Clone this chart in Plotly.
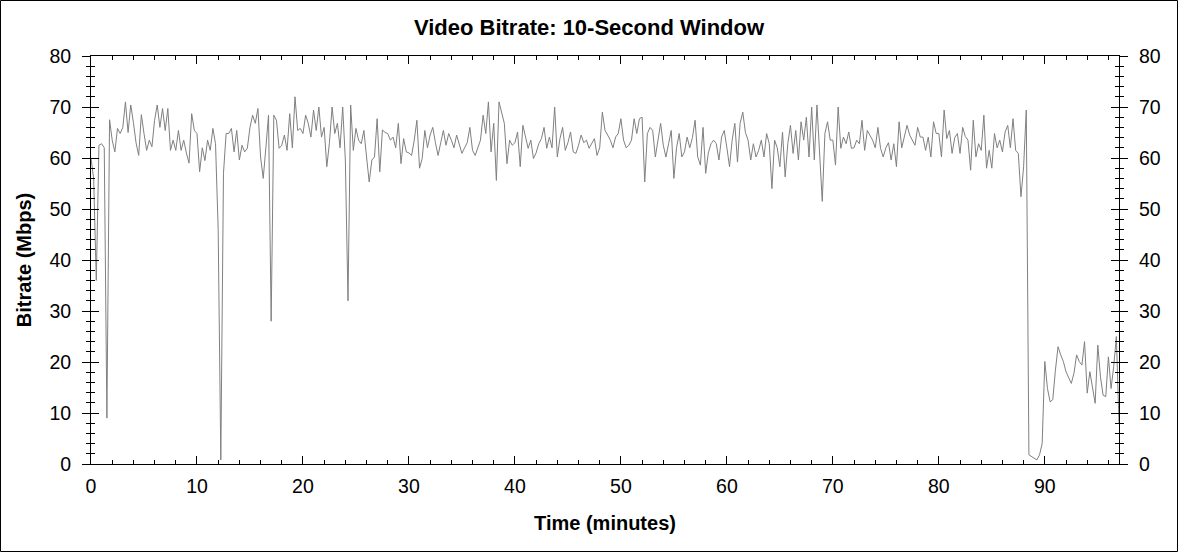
import plotly.graph_objects as go

# 10-second window bitrate, one reading every 15 s (4 per minute)
bitrate = [
    60, 56, 36, 62.5,  62.8, 62, 9, 67.5,  63.5, 61.2, 65.8, 64.8,  66, 71, 65, 70.4,
    67, 63, 60.5, 68.5,  64.8, 61.5, 63.5, 62.2,  67.4, 70.4, 66, 69.7,  65.4, 69.7, 61.5, 63.5,
    61.5, 65.4, 61.5, 63.5,  61, 59, 68.7, 65.4,
    # 10 min
    64.8, 57.3, 62, 59.5,  63.5, 61.5, 65.8, 62.8,  46, 0.8, 57, 64.8,  64.8, 65.8, 61.2, 65.4,
    59.6, 62.5, 61.2, 61.9,  66, 68.4, 66.8, 69.7,  60.2, 56, 62, 68.4,  28, 68.4, 67.4, 61.9,
    62.5, 64.5, 61.5, 68.7,  62, 72, 65.4, 65.8,
    # 20 min
    64.8, 68.4, 66.8, 64.1,  69.4, 65.4, 70, 64.1,  66, 58.3, 63, 70,  64.8, 66.8, 62, 70,
    59.6, 32, 70.4, 61.5,  65.8, 63.5, 62.8, 65.4,  60.2, 55.3, 59.6, 60.2,  67.7, 57.3, 65.5, 65,
    64.8, 63.5, 64.1, 62,  66.8, 58.9, 63.8, 61.2,
    # 30 min
    61, 60.5, 63.5, 67.4,  58, 59.9, 65.4, 62,  64.5, 66, 63, 60.5,  63, 65.4, 62.5, 64.8,
    63.5, 62, 64.5, 62.8,  60.9, 62, 63, 66,  61.5, 60.5, 62, 63.5,  68.4, 64.8, 71, 61.2,
    66.8, 55.6, 71, 68.7,  66.8, 58.9, 63.5, 62.5,
    # 40 min
    63, 65.1, 58.3, 66.4,  64, 61.9, 63.5, 59.9,  61, 62.8, 63.8, 66,  61.9, 64.1, 62, 70,
    60.2, 63.8, 66, 61.5,  63, 65.1, 61.2, 60.9,  62.5, 64.5, 63, 63.5,  61.9, 63, 63.8, 60.5,
    62, 69, 65.4, 64.5,  63.5, 62, 64.1, 64.8,
    # 50 min
    67.7, 63.5, 62, 62.5,  63.5, 67.7, 64.8, 67.7,  68, 55.3, 64.8, 66,  65.4, 60.2, 63.5, 66.8,
    62.5, 60.2, 62.8, 65.4,  56, 62, 64.8, 60.2,  61.2, 64.1, 62, 64,  67.4, 60.2, 58.6, 66,
    57, 61, 62.8, 63.5,  62.8, 59.6, 64.1, 65.4,
    # 60 min
    62, 58.3, 63.5, 66.8,  59.2, 66.8, 69, 65,  63.5, 59.6, 62.8, 60.2,  61.5, 63.5, 60.2, 64.8,
    62.8, 54, 63.5, 62,  58.3, 65.1, 56.3, 62.8,  66.4, 60.9, 65.4, 59.6,  67.1, 63.5, 68, 60.2,
    70, 59.6, 70.4, 59.6,  51.5, 64.8, 67.1, 63.5,
    # 70 min
    63.5, 58.6, 70, 61.9,  64.1, 62.8, 65.1, 61.9,  62, 63.5, 62.8, 67.4,  61.5, 65.4, 64.5, 63.5,
    62, 66, 61.9, 60.2,  62, 63, 59.6, 62.8,  58.3, 67.1, 62, 64,  66.4, 64.5, 63.5, 62.5,
    66, 64.1, 64.1, 61.5,  64.1, 60.2, 67.1, 64.8,
    # 80 min
    64.8, 60.2, 69.4, 63.8,  65.4, 60.9, 64, 64.8,  60.9, 66, 64.2, 63.5,  57.6, 67.4, 60.2, 62.8,
    61.5, 68.4, 58, 61.5,  58, 64.8, 62, 63.5,  61.2, 65.1, 66.4, 62,  67.7, 61.5, 60.9, 52.4,
    58.3, 69.4, 1.8, 1.5,  1.1, 0.8, 1.8, 4.0,
    # 90 min
    20.1, 14.8, 12.2, 12.6,  18.4, 23, 21.4, 20.1,  18.1, 16.8, 15.8, 17.8,  21.4, 20.1, 19.4, 24,
    13.9, 18.1, 14.8, 11.9,  23.3, 17.1, 13.5, 13.2,  21, 14.8, 19.1, 25,
    8,
]
minutes = [i * 0.25 for i in range(len(bitrate))]

x_range = [0, 97]
y_range = [0, 80]

FONT = "Arial, Liberation Sans, sans-serif"

fig = go.Figure()
fig.add_trace(go.Scatter(x=minutes, y=bitrate, mode="lines",
                         line=dict(color="#808080", width=1), showlegend=False))
# empty traces so the extra y axes get drawn
fig.add_trace(go.Scatter(x=[None], y=[None], yaxis="y2", showlegend=False))
fig.add_trace(go.Scatter(x=[None], y=[None], yaxis="y3", showlegend=False))

tickfont = dict(family=FONT, size=19.5, color="black")
yax = dict(range=y_range, dtick=10, showgrid=False, zeroline=False,
           showline=True, linecolor="black", linewidth=1,
           ticklen=8, tickcolor="black", tickfont=tickfont)

fig.update_layout(
    width=1178, height=552,
    margin=dict(l=91, r=59, t=56, b=88),
    paper_bgcolor="white", plot_bgcolor="white",
    title=dict(text="<b>Video Bitrate: 10-Second Window</b>", x=0.5, xref="container",
               y=1 - 27 / 552, yref="container", yanchor="middle",
               font=dict(family=FONT, size=22, color="black")),
    xaxis=dict(range=x_range, dtick=10, showgrid=False, zeroline=False,
               showline=True, linecolor="black", linewidth=1, mirror="ticks",
               ticks="inside", ticklen=8, tickcolor="black", tickfont=tickfont,
               ticklabelstandoff=5,
               minor=dict(dtick=2, ticks="inside", ticklen=4, tickcolor="black"),
               title=dict(text="<b>Time (minutes)</b>", standoff=19,
                          font=dict(family=FONT, size=20, color="black"))),
    yaxis=dict(yax, ticks="outside", ticklabelstandoff=7,
               minor=dict(dtick=2, ticks="outside", ticklen=4, tickcolor="black"),
               title=dict(text="<b>Bitrate (Mbps)</b>", standoff=12,
                          font=dict(family=FONT, size=20, color="black"))),
    yaxis2=dict(yax, overlaying="y", side="right", ticks="outside", ticklabelstandoff=7,
                minor=dict(dtick=2, ticks="outside", ticklen=4, tickcolor="black")),
    yaxis3=dict(yax, overlaying="y", side="left", ticks="inside", mirror="ticks",
                showticklabels=False,
                minor=dict(dtick=2, ticks="inside", ticklen=4, tickcolor="black")),
)

# thin frame around the whole picture
pw = 1178 - 91 - 59
ph = 552 - 56 - 88
fig.add_shape(type="rect", xref="paper", yref="paper",
              x0=-90.5 / pw, x1=(1178 - 91 - 0.5) / pw,
              y0=-(88 - 0.5) / ph, y1=(ph + 56 - 0.5) / ph,
              line=dict(color="black", width=1), layer="below")

fig.write_html("out.html", config={"displayModeBar": False},
               post_script="document.body.style.margin = '0';")
